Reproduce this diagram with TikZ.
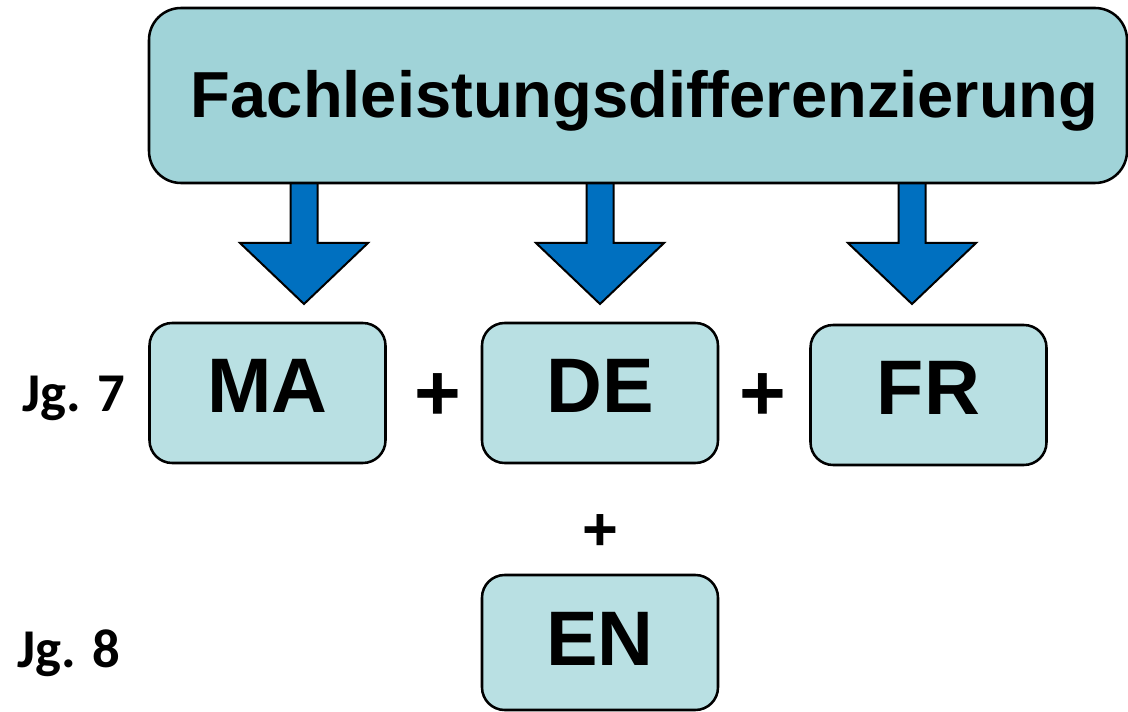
\documentclass[tikz,border=0pt]{standalone}
\usepackage{fontspec}
\setmainfont{Liberation Sans}
\newfontfamily\jgfont{Carlito}
\usetikzlibrary{calc}
\definecolor{topfill}{RGB}{160,211,216}
\definecolor{boxfill}{RGB}{185,224,227}
\definecolor{arrowblue}{RGB}{0,112,192}
\begin{document}
\begin{tikzpicture}[x=0.75pt,y=-0.75pt,
  topbox/.style={draw=black, line width=1.9pt, fill=topfill, rounded corners=24pt,
    inner sep=0pt, minimum width=733.5pt, minimum height=131.25pt,
    font=\fontsize{48.8}{48.8}\selectfont\bfseries, text height=33.75pt, text depth=0pt},
  subjbox/.style={draw=black, line width=1.9pt, fill=boxfill, rounded corners=17pt,
    inner sep=0pt, minimum width=177pt, minimum height=105pt,
    font=\fontsize{58}{58}\selectfont\bfseries, text height=39.75pt, text depth=9.75pt},
  plusbig/.style={inner sep=0pt, font=\fontsize{60}{60}\selectfont\bfseries},
  plussmall/.style={inner sep=0pt, font=\fontsize{46}{46}\selectfont\bfseries},
  jglabel/.style={inner sep=0pt, anchor=base west, font=\jgfont\fontsize{41}{41}\selectfont\bfseries},
  blockarrow/.style={draw=black, line width=1.5pt, fill=arrowblue, line join=miter}
]
\useasboundingbox (0,0) rectangle (1128,712);
% block arrows (drawn first, under the top box)
\foreach \cx/\nm in {304/a, 600/b, 912/c}{
  \coordinate (\nm) at (\cx,180);
  \draw[blockarrow] ($(\nm)+(-13.5,0)$) -- ($(\nm)+(13.5,0)$) -- ($(\nm)+(13.5,63)$)
     -- ($(\nm)+(64,63)$) -- ($(\nm)+(0,124)$) -- ($(\nm)+(-64,63)$)
     -- ($(\nm)+(-13.5,63)$) -- cycle;
}
\node[topbox] (top) at (638,95.5) {\hspace*{10pt}Fachleistungsdifferenzierung};
\node[subjbox] (ma) at (267.5,393) {MA};
\node[subjbox, minimum width=177pt] (de) at (600,393) {DE};
\node[subjbox] (fr) at (928.5,395) {FR};
\node[subjbox, minimum height=101.25pt, text depth=6pt] (en) at (600,642.5) {EN};
\node[plusbig] (p1) at (438,397) {+};
\node[plusbig] (p2) at (763,397) {+};
\node[plussmall] (p3) at (600,533) {+};
\node[jglabel] (jg7) at (22,412) {Jg. 7};
\node[jglabel] (jg8) at (17,667) {Jg. 8};
\end{tikzpicture}
\end{document}
